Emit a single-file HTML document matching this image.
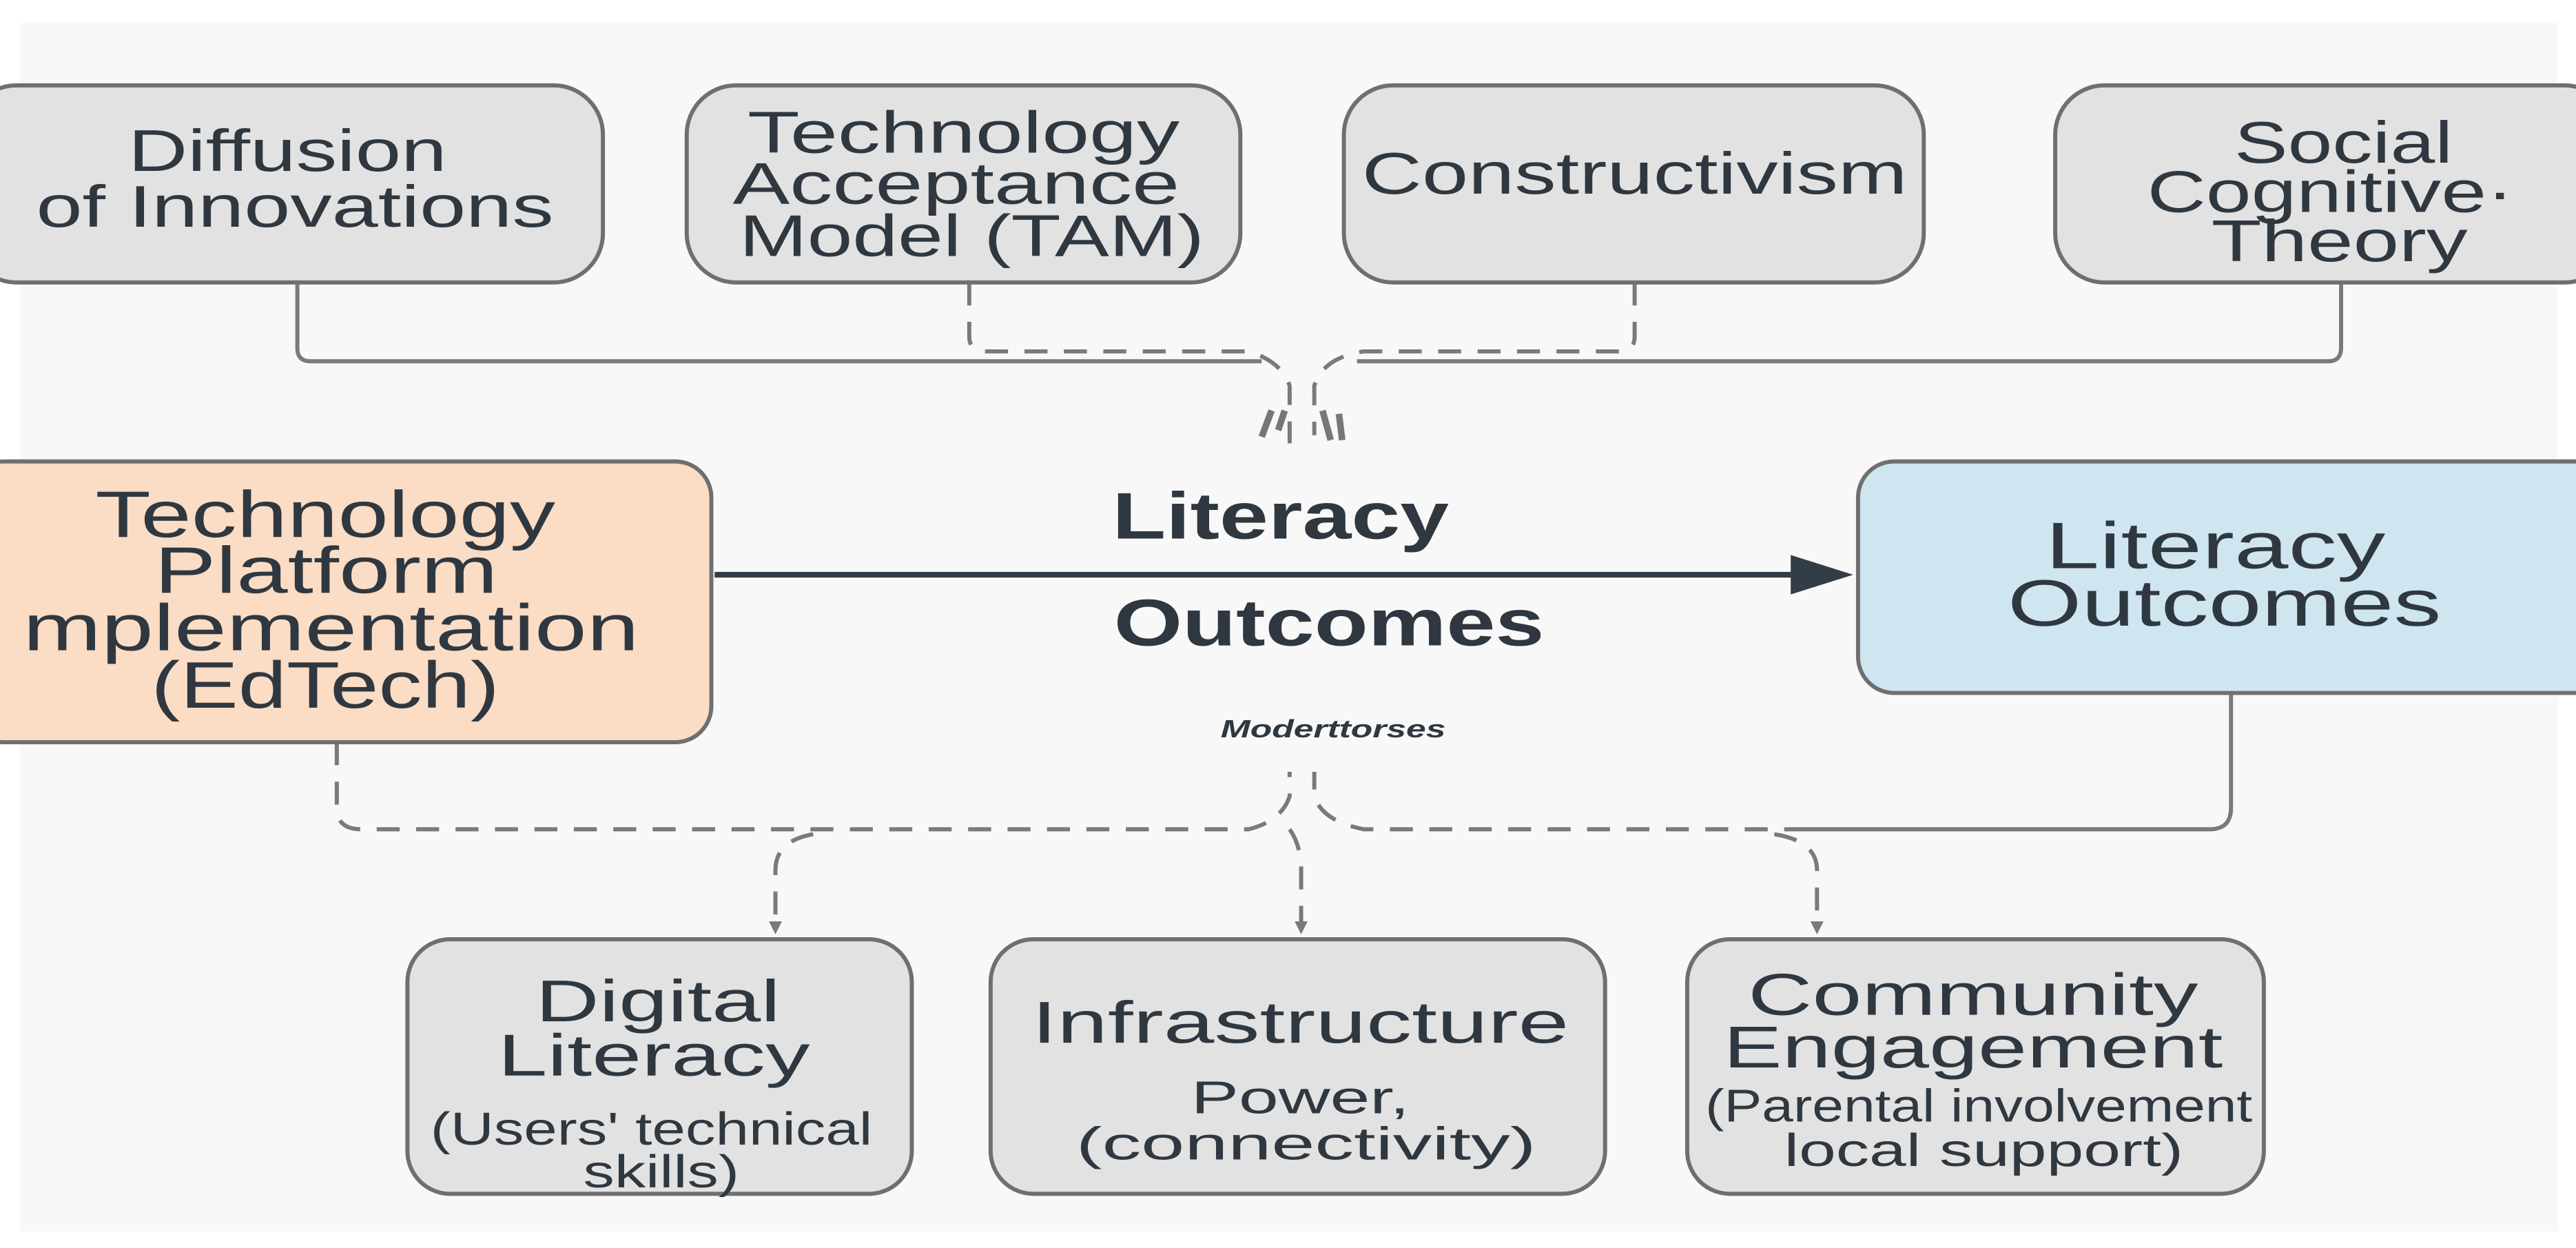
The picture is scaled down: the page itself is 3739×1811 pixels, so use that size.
<!DOCTYPE html>
<html><head><meta charset="utf-8"><style>
html,body{margin:0;padding:0;background:#fff;}
svg{display:block;}
text{font-family:"Liberation Sans",sans-serif;fill:#2f3840;}
</style></head><body>
<svg width="3739" height="1811" viewBox="0 0 1568 760" preserveAspectRatio="none" xmlns="http://www.w3.org/2000/svg">
<rect x="0" y="0" width="1568" height="760" fill="#ffffff"/>
<rect x="12" y="14" width="1545" height="736" fill="#f8f8f8"/>
<defs>
<marker id="ah" markerWidth="8" markerHeight="8" refX="4" refY="4" orient="auto" markerUnits="userSpaceOnUse"><path d="M0,0 L8,4 L0,8 z" fill="#7a7a7a"/></marker>
</defs>
<path d="M181,172 V212 Q181,220 189,220 H768" fill="none" stroke="#7a7a7a" stroke-width="2.5"/>
<path d="M1425,172 V212 Q1425,220 1417,220 H826" fill="none" stroke="#7a7a7a" stroke-width="2.5"/>
<path d="M590,172 V205 Q590,214 600,214 H760 Q780,220 785,235 V270" fill="none" stroke="#7a7a7a" stroke-width="2.5" stroke-dasharray="14,10"/>
<path d="M995,172 V205 Q995,214 985,214 H830 Q805,218 800,235 V265" fill="none" stroke="#7a7a7a" stroke-width="2.5" stroke-dasharray="14,10"/>
<path d="M768,266 L774,250 M782,250 L778,262 M805,250 L810,268 M815,252 L817,268" stroke="#777" stroke-width="4"/>
<g fill="#e2e2e2" stroke="#6f6f6f" stroke-width="2.5">
<rect x="-20" y="52" width="387" height="120" rx="30"/>
<rect x="418" y="52" width="337" height="120" rx="30"/>
<rect x="818" y="52" width="353" height="120" rx="30"/>
<rect x="1251" y="52" width="340" height="120" rx="30"/>
</g>
<g font-size="36">
<text x="78" y="104" textLength="194" lengthAdjust="spacingAndGlyphs">Diffusion</text>
<text x="22" y="138" textLength="315" lengthAdjust="spacingAndGlyphs">of Innovations</text>
<text x="455" y="93" textLength="263" lengthAdjust="spacingAndGlyphs">Technology</text>
<text x="446" y="124" textLength="272" lengthAdjust="spacingAndGlyphs">Acceptance</text>
<text x="450" y="156" textLength="283" lengthAdjust="spacingAndGlyphs">Model (TAM)</text>
<text x="829" y="118" textLength="332" lengthAdjust="spacingAndGlyphs">Constructivism</text>
<text x="1360" y="99" textLength="133" lengthAdjust="spacingAndGlyphs">Social</text>
<text x="1307" y="129" textLength="223" lengthAdjust="spacingAndGlyphs">Cognitive·</text>
<text x="1346" y="159" textLength="156" lengthAdjust="spacingAndGlyphs">Theory</text>
</g>
<path d="M205,452 V492 Q205,505 220,505 H760 Q780,500 785,485 V470" fill="none" stroke="#7a7a7a" stroke-width="2.5" stroke-dasharray="14,10"/>
<path d="M1358,422 V492 Q1358,505 1345,505 H1100" fill="none" stroke="#7a7a7a" stroke-width="2.5"/>
<path d="M1100,505 H830 Q805,500 800,485 V470" fill="none" stroke="#7a7a7a" stroke-width="2.5" stroke-dasharray="14,10"/>
<path d="M495,508 Q472,512 472,530 V565" fill="none" stroke="#7a7a7a" stroke-width="2.5" stroke-dasharray="14,10" marker-end="url(#ah)"/>
<path d="M785,505 Q792,515 792,530 V565" fill="none" stroke="#7a7a7a" stroke-width="2.5" stroke-dasharray="14,10" marker-end="url(#ah)"/>
<path d="M1080,508 Q1106,512 1106,530 V565" fill="none" stroke="#7a7a7a" stroke-width="2.5" stroke-dasharray="14,10" marker-end="url(#ah)"/>
<rect x="-20" y="281" width="453" height="171" rx="22" fill="#fbdcc4" stroke="#6f6f6f" stroke-width="2.5"/>
<rect x="1131" y="281" width="460" height="141" rx="22" fill="#cfe6f0" stroke="#6f6f6f" stroke-width="2.5"/>
<line x1="435" y1="350" x2="1095" y2="350" stroke="#333d47" stroke-width="3.5"/>
<path d="M1090,338 L1128,350 L1090,362 z" fill="#333d47"/>
<g font-size="40">
<text x="58" y="327" textLength="280" lengthAdjust="spacingAndGlyphs">Technology</text>
<text x="94" y="361" textLength="209" lengthAdjust="spacingAndGlyphs">Platform</text>
<text x="14" y="396" textLength="375" lengthAdjust="spacingAndGlyphs">mplementation</text>
<text x="92" y="431" textLength="212" lengthAdjust="spacingAndGlyphs">(EdTech)</text>
<text x="677" y="328" font-weight="bold" textLength="205" lengthAdjust="spacingAndGlyphs">Literacy</text>
<text x="678" y="393" font-weight="bold" textLength="262" lengthAdjust="spacingAndGlyphs">Outcomes</text>
<text x="1245" y="346" textLength="207" lengthAdjust="spacingAndGlyphs">Literacy</text>
<text x="1222" y="381" textLength="264" lengthAdjust="spacingAndGlyphs">Outcomes</text>
</g>
<text x="743" y="449" font-size="15" font-weight="bold" font-style="italic" fill="#111" textLength="137" lengthAdjust="spacingAndGlyphs">Moderttorses</text>
<g fill="#e2e2e2" stroke="#6f6f6f" stroke-width="2.5">
<rect x="248" y="572" width="307" height="155" rx="26"/>
<rect x="603" y="572" width="374" height="155" rx="26"/>
<rect x="1027" y="572" width="351" height="155" rx="26"/>
</g>
<g font-size="36">
<text x="326" y="622" textLength="149" lengthAdjust="spacingAndGlyphs">Digital</text>
<text x="303" y="655" textLength="190" lengthAdjust="spacingAndGlyphs">Literacy</text>
<text x="628" y="635" textLength="327" lengthAdjust="spacingAndGlyphs">Infrastructure</text>
<text x="1064" y="618" textLength="274" lengthAdjust="spacingAndGlyphs">Community</text>
<text x="1049" y="650" textLength="304" lengthAdjust="spacingAndGlyphs">Engagement</text>
</g>
<g font-size="28">
<text x="262" y="697" textLength="269" lengthAdjust="spacingAndGlyphs">(Users' technical</text>
<text x="355" y="723" textLength="95" lengthAdjust="spacingAndGlyphs">skills)</text>
<text x="725" y="678" textLength="133" lengthAdjust="spacingAndGlyphs">Power,</text>
<text x="655" y="706" textLength="280" lengthAdjust="spacingAndGlyphs">(connectivity)</text>
<text x="1038" y="683" textLength="333" lengthAdjust="spacingAndGlyphs">(Parental involvement</text>
<text x="1086" y="710" textLength="243" lengthAdjust="spacingAndGlyphs">local support)</text>
</g>
</svg>
</body></html>
